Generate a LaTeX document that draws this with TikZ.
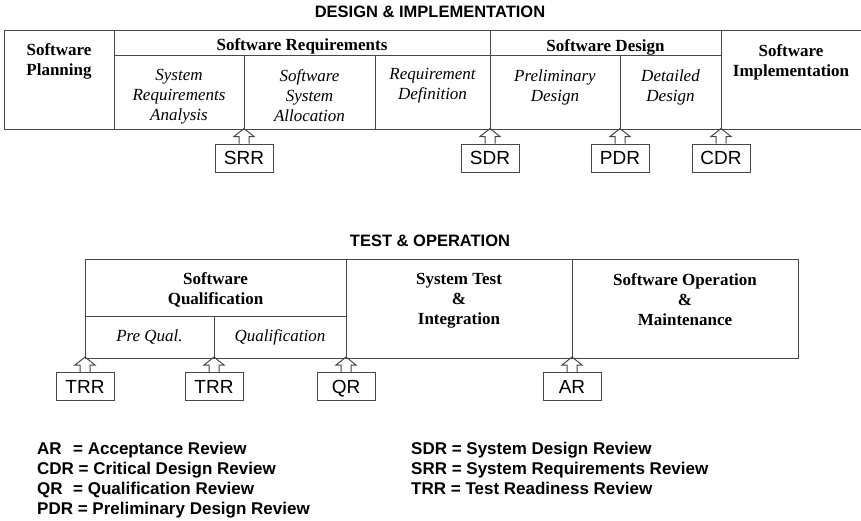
\documentclass[tikz,border=0pt]{standalone}
\usepackage{fontspec}
\setmainfont{Liberation Serif}
\newfontfamily\arial{Liberation Sans}
\begin{document}
\begin{tikzpicture}[x=1pt,y=-1pt,
  frame/.style={draw=black!72, line width=1pt},
  title/.style={font=\fontsize{16.5}{20}\selectfont\arial\bfseries, inner sep=0pt},
  phase/.style={font=\fontsize{17}{20}\selectfont\bfseries, align=center, inner sep=0pt},
  sub/.style={font=\fontsize{17}{20}\selectfont\itshape, align=center, inner sep=0pt},
  review/.style={draw=black!72, line width=1pt, fill=white, minimum width=58pt,
    minimum height=28pt, inner sep=0pt, text height=13.6pt, text depth=0pt,
    font=\fontsize{19}{22}\selectfont\arial},
  legend/.style={font=\fontsize{17}{20}\selectfont\arial\bfseries, inner sep=0pt, anchor=base west},
]
\useasboundingbox (0,0) rectangle (861,520);

% block arrow from a review box up to the phase boundary it marks
\newcommand\reviewarrow[1]{%
  \draw[frame, line join=miter] ([xshift=-5pt]#1.north) -- ++(0,-7) -- ++(-5,0)
    -- ([yshift=15pt]#1.north) -- ++(10,8) -- ++(-5,0) -- ([xshift=5pt]#1.north);}

% ---------------- design & implementation ----------------
\node[title] (t1) at (430,12) {DESIGN \& IMPLEMENTATION};

\draw[frame] (861,30) -- (4,30) -- (4,129) -- (861,129);
\draw[frame] (114,30) -- (114,129);
\draw[frame] (490,30) -- (490,129);
\draw[frame] (721,30) -- (721,129);
\draw[frame] (114,55) -- (721,55);
\draw[frame] (244,55) -- (244,129);
\draw[frame] (375,55) -- (375,129);
\draw[frame] (620,55) -- (620,129);

\node[phase] (plan) at (59,61) {Software\\Planning};
\node[phase] (req) at (302,46) {Software Requirements};
\node[phase] (des) at (605.5,47) {Software Design};
\node[phase] (impl) at (791,62) {Software\\Implementation};

\node[sub] (sra) at (179,97) {System\\Requirements\\Analysis};
\node[sub] (ssa) at (309.5,96) {Software\\System\\Allocation};
\node[sub] (rd) at (432.5,86) {Requirement\\Definition};
\node[sub] (pd) at (555,87) {Preliminary\\Design};
\node[sub] (dd) at (670.5,87) {Detailed\\Design};

\node[review] (srr) at (244,158) {SRR};
\node[review] (sdr) at (490,158) {SDR};
\node[review] (pdr) at (620,158) {PDR};
\node[review] (cdr) at (721,158) {CDR};
\reviewarrow{srr}
\reviewarrow{sdr}
\reviewarrow{pdr}
\reviewarrow{cdr}

% ---------------- test & operation ----------------
\node[title] (t2) at (430,241) {TEST \& OPERATION};

\draw[frame] (85,259) rectangle (798,358);
\draw[frame] (346,259) -- (346,358);
\draw[frame] (572,259) -- (572,358);
\draw[frame] (85,316) -- (346,316);
\draw[frame] (214,316) -- (214,358);

\node[phase] (sq) at (215.5,290) {Software\\Qualification};
\node[phase] (sti) at (459,301) {System Test\\\&\\Integration};
\node[phase] (som) at (685,300) {Software Operation\\\&\\Maintenance};
\node[sub] (pq) at (149.5,337) {Pre Qual.};
\node[sub] (q) at (280,337) {Qualification};

\node[review] (trr1) at (85,386.5) {TRR};
\node[review] (trr2) at (214,386.5) {TRR};
\node[review] (qr) at (346,386.5) {QR};
\node[review] (ar) at (572,386.5) {AR};
\reviewarrow{trr1}
\reviewarrow{trr2}
\reviewarrow{qr}
\reviewarrow{ar}

% ---------------- legend ----------------
\node[legend] (lar) at (37,454) {AR};
\node[legend] (lare) at (73,454) {= Acceptance Review};
\node[legend] (lcdr) at (37,474) {CDR = Critical Design Review};
\node[legend] (lqr) at (37,494) {QR};
\node[legend] (lqre) at (73,494) {= Qualification Review};
\node[legend] (lpdr) at (37,514) {PDR = Preliminary Design Review};
\node[legend] (lsdr) at (411,454) {SDR = System Design Review};
\node[legend] (lsrr) at (411,474) {SRR = System Requirements Review};
\node[legend] (ltrr) at (411,494) {TRR = Test Readiness Review};
\end{tikzpicture}
\end{document}
